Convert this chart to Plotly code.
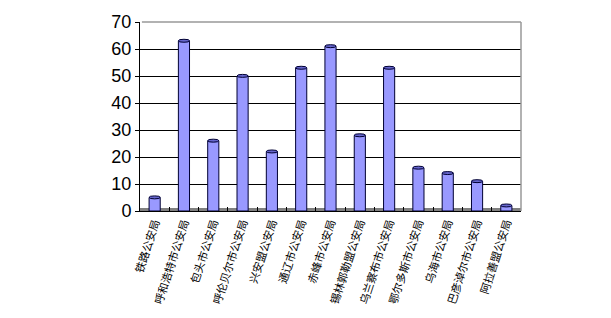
import plotly.graph_objects as go

categories = ["铁路公安局", "呼和浩特市公安局", "包头市公安局", "呼伦贝尔市公安局", "兴安盟公安局",
              "通辽市公安局", "赤峰市公安局", "锡林郭勒盟公安局", "乌兰察布市公安局", "鄂尔多斯市公安局",
              "乌海市公安局", "巴彦淖尔市公安局", "阿拉善盟公安局"]
values = [5, 63, 26, 50, 22, 53, 61, 28, 53, 16, 14, 11, 2]
y_ticks = [0, 10, 20, 30, 40, 50, 60, 70]

fig = go.Figure()
fig.add_trace(go.Bar(
    x=categories, y=values, width=0.38,
    marker=dict(color="#9999ff", line=dict(color="#000033", width=1)),
))

shapes = []
# floor band
shapes.append(dict(type="rect", xref="paper", yref="y", x0=0, x1=1, y0=0, y1=1.1,
                   fillcolor="#808080", line=dict(width=0), layer="below"))
# top and right frame
shapes.append(dict(type="line", xref="paper", yref="paper", x0=0.005, x1=1, y0=1, y1=1,
                   line=dict(color="#999999", width=1.5)))
shapes.append(dict(type="line", xref="paper", yref="paper", x0=1, x1=1, y0=0, y1=1,
                   line=dict(color="#999999", width=1.5)))
# bar tops (ellipse caps)
for i, v in enumerate(values):
    shapes.append(dict(type="circle", xref="x", yref="y", x0=i - 0.19, x1=i + 0.19,
                       y0=v - 0.5, y1=v + 0.6, fillcolor="#6666cc",
                       line=dict(color="#000033", width=1)))
fig.update_layout(shapes=shapes)

fig.update_layout(
    width=611, height=318,
    margin=dict(l=140, r=90, t=21, b=104),
    paper_bgcolor="white", plot_bgcolor="white",
    showlegend=False,
    bargap=0.6,
    xaxis=dict(
        type="category", tickson="boundaries", ticks="inside", ticklen=4,
        tickcolor="black", tickangle=-72,
        tickfont=dict(family="Noto Sans CJK SC", size=11, color="black"),
        showline=True, linecolor="black", linewidth=1, showgrid=False,
    ),
    yaxis=dict(
        range=[0, 70], tickvals=y_ticks, ticktext=[str(t) for t in y_ticks],
        ticks="outside", ticklen=4, tickcolor="black",
        tickfont=dict(family="Liberation Sans", size=18, color="black"),
        showline=True, linecolor="black", linewidth=1,
        showgrid=True, gridcolor="black", gridwidth=1, zeroline=False,
    ),
)

fig.write_html("out.html")
